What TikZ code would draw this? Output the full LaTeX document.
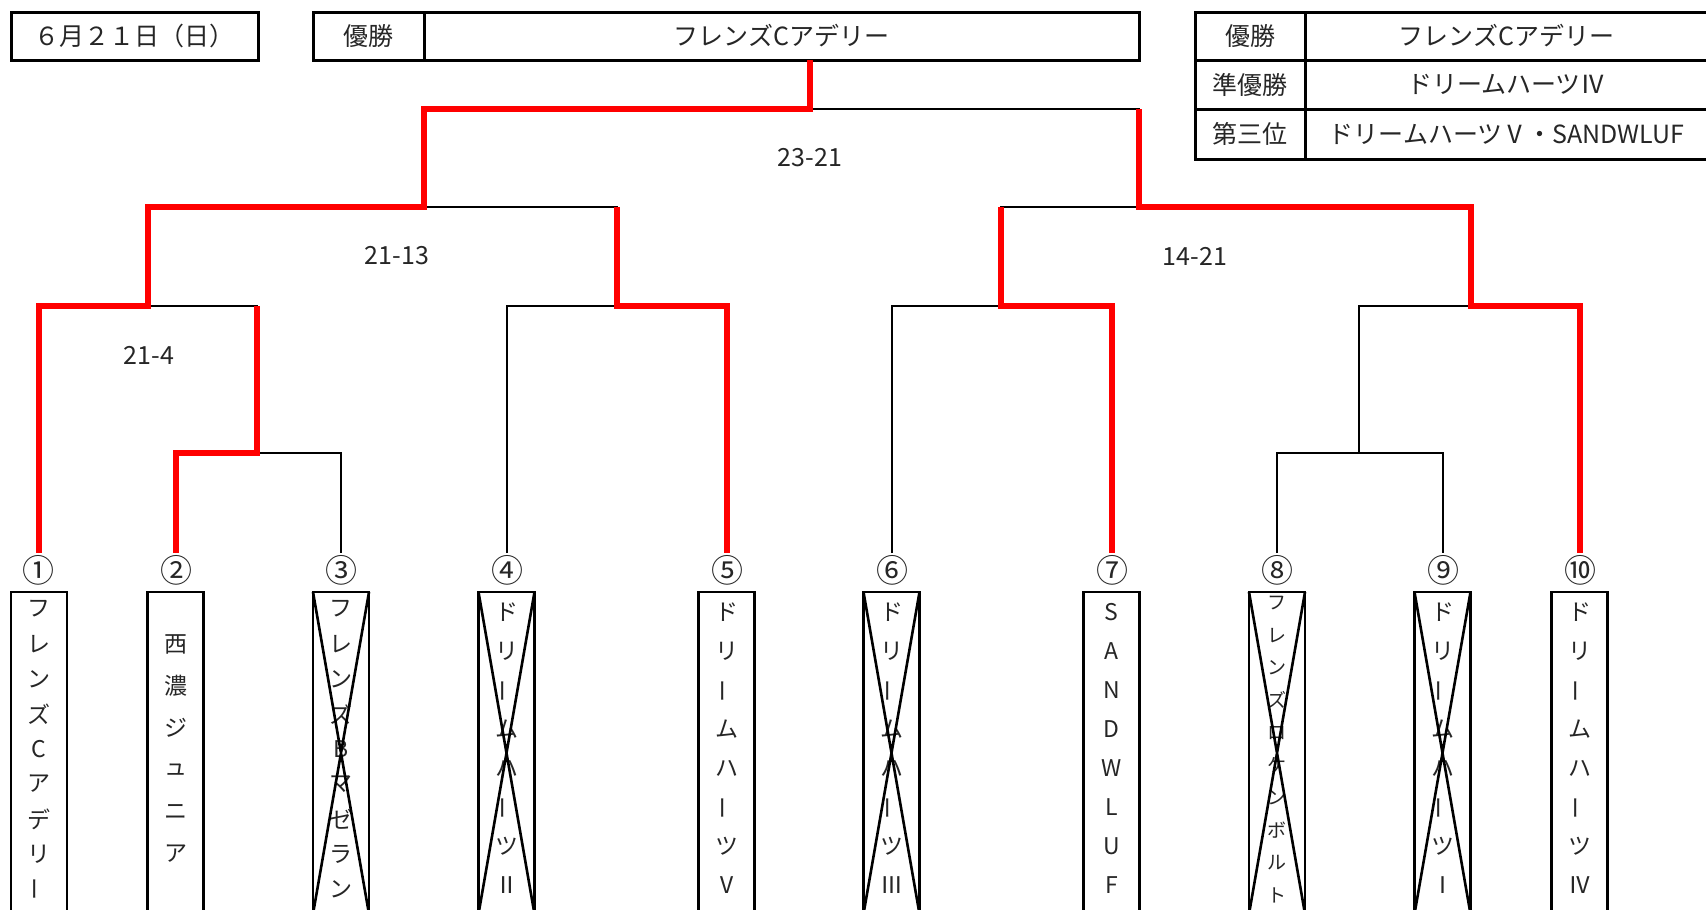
\documentclass[tikz,border=0pt]{standalone}
\usepackage{fontspec}
\usepackage{graphicx}
\setmainfont{Noto Sans CJK JP}
\usetikzlibrary{calc}
\newcommand\vbar{\rotatebox{90}{ー}}
% #1 box name, #2 spacing, #3 count, #4 style, #5 list of characters
\newcommand\vtext[5]{%
  \foreach \ch [count=\i] in {#5}{%
    \node[#4] (#1c\i) at ($(#1.center)+(0,{-4+(\i-(#3+1)/2)*#2})$) {\ch};}}
\begin{document}
\begin{tikzpicture}[x=1pt,y=-1pt,
  every node/.style={inner sep=0pt,outer sep=0pt},
  txt/.style={text=black!85,font=\fontsize{25}{30}\selectfont},
  cell/.style={draw=black,line width=3pt,txt},
  teambox/.style={draw=black,line width=2.8pt,minimum width=56pt,minimum height=322pt},
  seed/.style={text=black!85,font=\fontsize{32}{36}\selectfont},
  score/.style={text=black!85,font=\fontsize{25}{30}\selectfont},
  vt/.style={text=black!85,font=\fontsize{23}{26}\selectfont},
  vts/.style={text=black!85,font=\fontsize{19}{22}\selectfont},
  bline/.style={draw=black,line width=2.8pt},
  rline/.style={draw=red,line width=6.5pt,line join=miter},
  xline/.style={draw=black,line width=2.6pt}]
\useasboundingbox (0,0) rectangle (1706,910);
\fill[white] (0,0) rectangle (1706,910);

% header boxes
\node[cell,minimum width=247pt,minimum height=48pt] (date) at (134.5,36) {６月２１日（日）};
\node[cell,minimum width=111pt,minimum height=48pt] (w1) at (368.5,36) {優勝};
\node[cell,minimum width=715pt,minimum height=48pt] (w2) at (781.5,36) {フレンズCアデリー};

% ranking table
\node[cell,minimum width=110pt,minimum height=48pt] (r11) at (1250,36) {優勝};
\node[cell,minimum width=403pt,minimum height=48pt] (r12) at (1506.5,36) {フレンズCアデリー};
\node[cell,minimum width=110pt,minimum height=49pt] (r21) at (1250,84.5) {準優勝};
\node[cell,minimum width=403pt,minimum height=49pt] (r22) at (1506.5,84.5) {ドリームハーツⅣ};
\node[cell,minimum width=110pt,minimum height=50pt] (r31) at (1250,134) {第三位};
\node[cell,minimum width=403pt,minimum height=50pt] (r32) at (1506.5,134) {ドリームハーツⅤ・SANDWLUF};

% bracket coordinates
\coordinate (e1) at (39,553);
\coordinate (e2) at (176,553);
\coordinate (e3) at (341,553);
\coordinate (e4) at (507,553);
\coordinate (e5) at (727,553);
\coordinate (e6) at (892,553);
\coordinate (e7) at (1112,553);
\coordinate (e8) at (1277,553);
\coordinate (e9) at (1443,553);
\coordinate (e10) at (1580,553);
\coordinate (q1) at (148,306);
\coordinate (r1) at (257,306);
\coordinate (j23) at (257,453);
\coordinate (p3) at (341,453);
\coordinate (q2) at (617,306);
\coordinate (p5) at (727,306);
\coordinate (u2) at (617,207);
\coordinate (s1) at (424,207);
\coordinate (f) at (810,109);
\coordinate (v2) at (1139,109);
\coordinate (s2) at (1139,207);
\coordinate (u3) at (1001,207);
\coordinate (u4) at (1471,207);
\coordinate (q3) at (1001,306);
\coordinate (p7) at (1112,306);
\coordinate (q4) at (1471,306);
\coordinate (p10) at (1580,306);
\coordinate (j89) at (1359,453);
\coordinate (p9) at (1443,453);

% black bracket
\path[bline] (e1) |- (r1) -- (j23);
\path[bline] (e2) |- (p3) -- (e3);
\path[bline] (q1) |- (u2) -- (q2);
\path[bline] (e4) |- (p5) -- (e5);
\path[bline] (s1) |- (v2) -- (s2);
\path[bline] (f) -- (f |- w2.south);
\path[bline] (q3) -- (u3) -- (u4) -- (q4);
\path[bline] (e6) |- (p7) -- (e7);
\path[bline] (j89) |- (p10) -- (e10);
\path[bline] (e8) |- (p9) -- (e9);

% winners (red)
\path[rline] (e1) |- (q1) |- (s1) |- (f) -- (f |- w2.south);
\path[rline] (e2) |- (j23) -- (r1);
\path[rline] (e5) |- (q2) -- (u2);
\path[rline] (e7) |- (q3) -- (u3);
\path[rline] (e10) |- (q4) |- (s2) -- (v2);

% scores
\node[score] (sc1) at (810,158) {23-21};
\node[score] (sc2) at (397,256) {21-13};
\node[score] (sc3) at (1195,256) {14-21};
\node[score] (sc4) at (149,355) {21-4};

% seed numbers
\node[seed] (n1) at (39,570) {①};
\node[seed] (n2) at (176,570) {②};
\node[seed] (n3) at (341,570) {③};
\node[seed] (n4) at (507,570) {④};
\node[seed] (n5) at (727,570) {⑤};
\node[seed] (n6) at (892,570) {⑥};
\node[seed] (n7) at (1112,570) {⑦};
\node[seed] (n8) at (1277,570) {⑧};
\node[seed] (n9) at (1443,570) {⑨};
\node[seed] (n10) at (1580,570) {⑩};

% team boxes
\node[teambox] (t1) at (39,753) {};
\node[teambox] (t2) at (175.5,753) {};
\node[teambox] (t3) at (341,753) {};
\node[teambox] (t4) at (506.5,753) {};
\node[teambox] (t5) at (726.5,753) {};
\node[teambox] (t6) at (891.5,753) {};
\node[teambox] (t7) at (1111.5,753) {};
\node[teambox] (t8) at (1277,753) {};
\node[teambox] (t9) at (1442.5,753) {};
\node[teambox] (t10) at (1579.5,753) {};

\vtext{t1}{35}{9}{vt}{フ,レ,ン,ズ,C,ア,デ,リ,\vbar}
\vtext{t2}{42}{6}{vt}{西,濃,ジ,ュ,ニ,ア}
\vtext{t3}{35}{9}{vt}{フ,レ,ン,ズ,B,マ,ゼ,ラ,ン}
\vtext{t4}{39}{8}{vt}{ド,リ,\vbar,ム,ハ,\vbar,ツ,Ⅱ}
\vtext{t5}{39}{8}{vt}{ド,リ,\vbar,ム,ハ,\vbar,ツ,Ⅴ}
\vtext{t6}{39}{8}{vt}{ド,リ,\vbar,ム,ハ,\vbar,ツ,Ⅲ}
\vtext{t7}{39}{8}{vt}{S,A,N,D,W,L,U,F}
\vtext{t8}{32.5}{10}{vts}{フ,レ,ン,ズ,ロ,ケ,ン,ボ,ル,ト}
\vtext{t9}{39}{8}{vt}{ド,リ,\vbar,ム,ハ,\vbar,ツ,Ⅰ}
\vtext{t10}{39}{8}{vt}{ド,リ,\vbar,ム,ハ,\vbar,ツ,Ⅳ}

% crossed-out entries
\foreach \b in {t3,t4,t6,t8,t9}{
  \path[xline] (\b.north west) -- (\b.south east) (\b.north east) -- (\b.south west);}
\end{tikzpicture}
\end{document}
